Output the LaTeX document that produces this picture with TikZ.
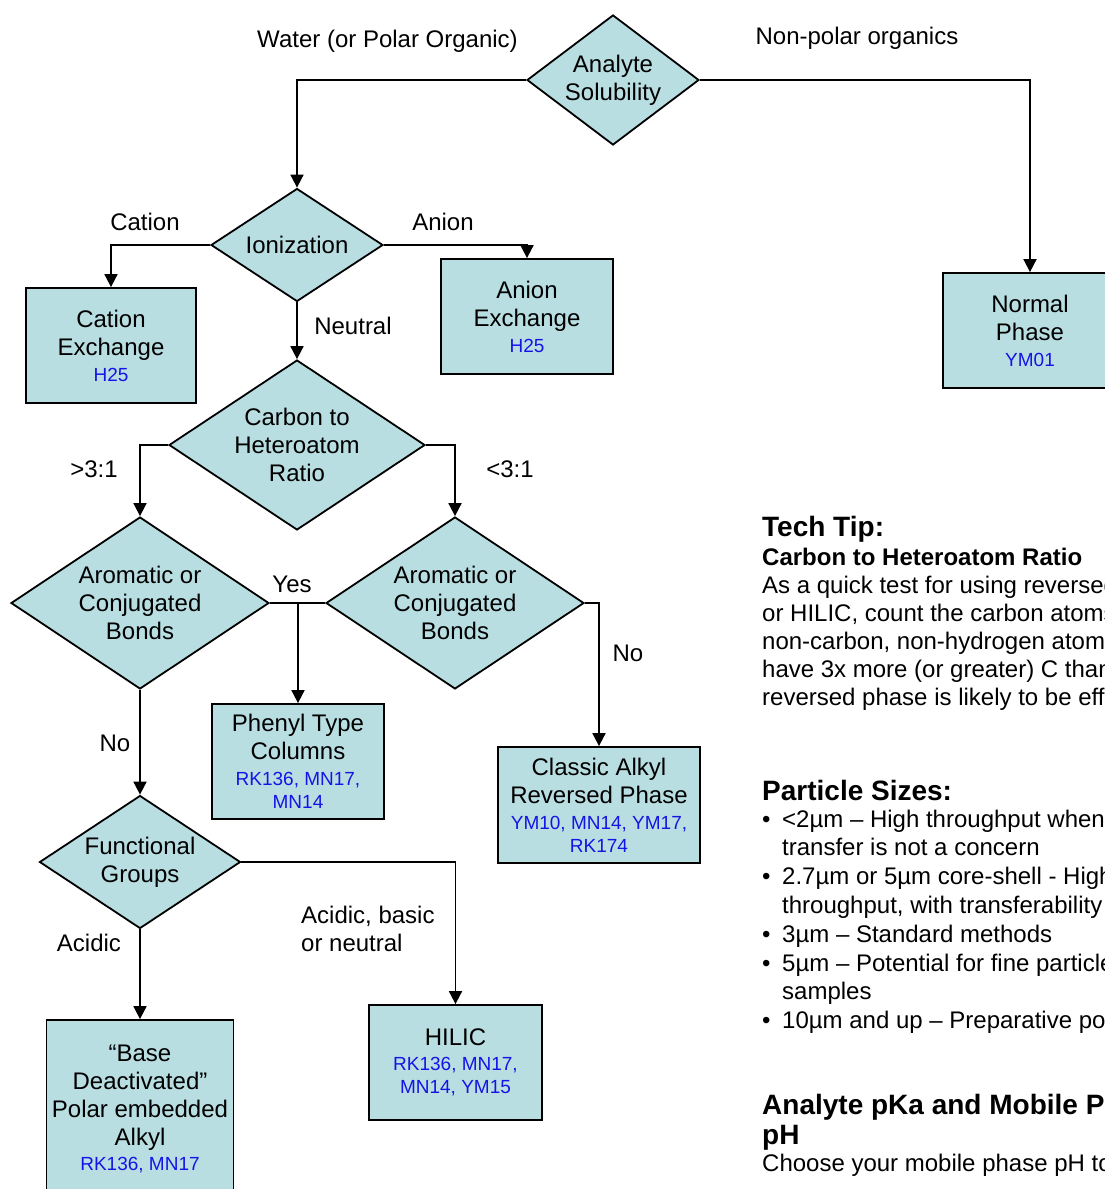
\documentclass[tikz,border=0pt]{standalone}
\usepackage{fontspec}
\setmainfont{Liberation Sans}
\usetikzlibrary{shapes.geometric,arrows.meta}
\definecolor{boxfill}{HTML}{B8DEE2}
\definecolor{codeblue}{HTML}{1414E6}
\newcommand\blu[1]{{\color{codeblue}\fontsize{19}{22}\selectfont #1}}
\newcommand\bul{\makebox[20pt][l]{•}}
\newcommand\ind{\hspace*{20pt}}
\begin{document}
\begin{tikzpicture}[x=1pt,y=-1pt,
  every node/.style={font=\fontsize{24}{28}\selectfont, inner sep=0pt},
  dec/.style={diamond, draw, line width=1.8pt, fill=boxfill, align=center},
  res/.style={rectangle, draw, line width=1.8pt, fill=boxfill, align=center},
  arr/.style={line width=1.8pt, -{Triangle[width=13pt,length=13pt]}},
  con/.style={line width=1.8pt},
  lab/.style={anchor=base},
  head/.style={anchor=base west, font=\bfseries\fontsize{28}{30}\selectfont, align=left},
  para/.style={anchor=base west, align=left}
]
\useasboundingbox (0,0) rectangle (1105,1189);
\clip (0,0) rectangle (1105,1189);

% decisions
\node[dec, shape aspect=1.32, minimum width=172pt, minimum height=130pt] (sol) at (613,80) {Analyte\\Solubility};
\node[dec, shape aspect=1.52, minimum width=172pt, minimum height=113pt] (ion) at (297,245) {Ionization};
\node[dec, shape aspect=1.5, minimum width=256pt, minimum height=170pt] (carbon) at (297,445) {Carbon to\\Heteroatom\\Ratio};
\node[dec, shape aspect=1.5, minimum width=258pt, minimum height=172pt] (aroml) at (140,603) {Aromatic or\\Conjugated\\Bonds};
\node[dec, shape aspect=1.5, minimum width=258pt, minimum height=172pt] (aromr) at (455,603) {Aromatic or\\Conjugated\\Bonds};
\node[dec, shape aspect=1.51, minimum width=201pt, minimum height=133pt] (func) at (140,862) {Functional\\Groups};

% results
\node[res, minimum width=170pt, minimum height=115pt] (cation) at (111,345.5) {Cation\\Exchange\\[-2pt]\blu{H25}};
\node[res, minimum width=172pt, minimum height=115pt] (anion) at (527,316.5) {Anion\\Exchange\\[-2pt]\blu{H25}};
\node[res, minimum width=174pt, minimum height=115pt] (normal) at (1030,330.5) {Normal\\Phase\\[-2pt]\blu{YM01}};
\node[res, minimum width=172pt, minimum height=115pt] (phenyl) at (298,761.5) {Phenyl Type\\Columns\\[-2pt]\blu{RK136, MN17,}\\[-5pt]\blu{MN14}};
\node[res, minimum width=202pt, minimum height=116pt] (classic) at (599,805) {Classic Alkyl\\Reversed Phase\\[-2pt]\blu{YM10, MN14, YM17,}\\[-5pt]\blu{RK174}};
\node[res, minimum width=173pt, minimum height=115pt] (hilic) at (455.5,1062.5) {HILIC\\[-3pt]\blu{RK136, MN17,}\\[-5pt]\blu{MN14, YM15}};
\node[res, minimum width=187pt, minimum height=177pt] (base) at (140,1108.5) {“Base\\Deactivated”\\Polar embedded\\Alkyl\\[-3pt]\blu{RK136, MN17}};

% connectors
\draw[arr] (sol.west) -| (ion.north);
\draw[arr] (sol.east) -| (normal.north);
\draw[arr] (ion.west) -| (cation.north);
\draw[arr] (ion.east) -| (anion.north);
\draw[arr] (ion.south) -- (carbon.north);
\draw[arr] (carbon.west) -| (aroml.north);
\draw[arr] (carbon.east) -| (aromr.north);
\draw[con] (aroml.east) -- (aromr.west);
\coordinate (yesj) at (phenyl.north |- aroml.east);
\draw[arr] (yesj) -- (phenyl.north);
\draw[arr] (aromr.east) -| (classic.north);
\draw[arr] (aroml.south) -- (func.north);
\draw[arr] (func.south) -- (base.north);
\draw[arr] (func.east) -| (hilic.north);

% connector labels
\node[lab] (lwater) at (387.5,47) {Water (or Polar Organic)};
\node[lab] (lnonpolar) at (857,44) {Non-polar organics};
\node[lab] (lcation) at (145,230) {Cation};
\node[lab] (lanion) at (443,230) {Anion};
\node[lab] (lneutral) at (353,334) {Neutral};
\node[lab] (lgt) at (94,477) {>3:1};
\node[lab] (llt) at (510,477) {<3:1};
\node[lab] (lyes) at (292,592) {Yes};
\node[lab] (lnor) at (628,661) {No};
\node[lab] (lnol) at (115,751) {No};
\node[lab] (lacidic) at (89,951) {Acidic};
\node[para] (lacbas) at (301,951) {Acidic, basic\\or neutral};

% right panel (multi-line nodes: base anchor = last line's baseline)
\node[head] (techtip) at (762,536) {Tech Tip:};
\node[para] (ttbody) at (762,705) {\textbf{Carbon to Heteroatom Ratio}\\As a quick test for using reversed\\or HILIC, count the carbon atoms\\non-carbon, non-hydrogen atoms\\have 3x more (or greater) C than\\reversed phase is likely to be effective};
\node[head] (psizes) at (762,800) {Particle Sizes:};
\node[para, font=\fontsize{24}{28.8}\selectfont] (pslist) at (762,1028.6) {\bul <2µm – High throughput when\\\ind transfer is not a concern\\\bul 2.7µm or 5µm core-shell - High\\\ind throughput, with transferability\\\bul 3µm – Standard methods\\\bul 5µm – Potential for fine particle\\\ind samples\\\bul 10µm and up – Preparative potential};
\node[head] (pka) at (762,1144) {Analyte pKa and Mobile Phase\\pH};
\node[para] (pkabody) at (762,1171) {Choose your mobile phase pH to};
\end{tikzpicture}
\end{document}
